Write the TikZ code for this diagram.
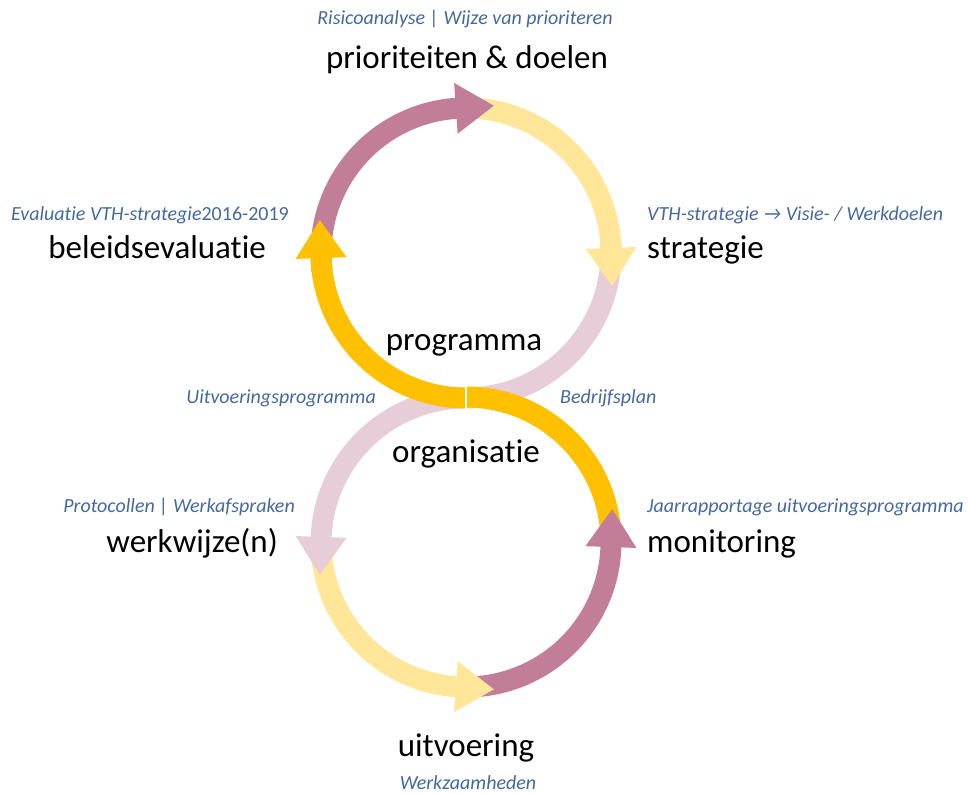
\documentclass[tikz,border=0pt]{standalone}
\usepackage{fontspec}
\setmainfont{Carlito}[Ligatures=NoCommon]
\usetikzlibrary{calc}
\definecolor{mauve}{RGB}{194,126,153}
\definecolor{sand}{RGB}{255,230,153}
\definecolor{blush}{RGB}{231,205,215}
\definecolor{gold}{RGB}{255,192,0}
\definecolor{slate}{RGB}{68,105,160}
\begin{document}
\begin{tikzpicture}[x=1pt,y=1pt,
    band/.style={line width=21pt},
    title/.style={inner sep=0pt, font=\fontsize{33}{36}\selectfont},
    note/.style={inner sep=0pt, text=slate, font=\fontsize{20}{24}\selectfont\itshape}]
    \useasboundingbox (0,0) rectangle (968,794);
    \coordinate (up) at (466,541);
    \coordinate (lo) at (466,252);
    % shafts
    \draw[band,blush] ($(up)+(5:145)$) arc (5:-90:145) arc (90:182:145);
    \draw[band,sand] ($(lo)+(180:145)$) arc (180:266.5:145);
    \draw[band,mauve] ($(lo)+(268:145)$) arc (268:358.5:145);
    \draw[band,sand] ($(up)+(100:145)$) arc (100:1.5:145);
    \draw[band,mauve] ($(up)+(187:145)$) arc (187:93.5:145);
    \draw[band,gold] ($(up)+(270:145)$) arc (270:181.5:145);
    \draw[band,gold] ($(lo)+(90:145)$) arc (90:3:145);
    \draw[white,line width=1.5pt] ($(up)+(270:133)$) -- ($(up)+(270:157)$);
    % arrow heads
    \foreach \c/\a/\t/\col in {up/182/-90/gold, up/94/-90/mauve, up/2/-90/sand,
                               lo/178/90/blush, lo/266/90/sand, lo/358/90/mauve}
    \fill[\col] ($(\c)+(\a:170.5)$) -- ($(\c)+(\a:119.5)$) -- ($(\c)+(\a:145)+(\a+\t:38)$) -- cycle;
    % labels
    \node[note,anchor=base] (risknote) at (465,769) {Risicoanalyse | Wijze van prioriteren};
    \node[title,anchor=base] (goals) at (467,725) {prioriteiten \& doelen};
    \node[note,anchor=base east] (evalnote) at (289,573) {Evaluatie VTH-strategie\textup{2016-2019}};
    \node[title,anchor=base east] (evaluation) at (266,535) {beleidsevaluatie};
    \node[note,anchor=base west] (stratnote) at (647,573) {VTH-strategie → Visie- / Werkdoelen};
    \node[title,anchor=base west] (strategy) at (647,535) {strategie};
    \node[title,anchor=base] (program) at (464,443) {programma};
    \node[note,anchor=base east] (prognote) at (376,390) {Uitvoeringsprogramma};
    \node[note,anchor=base west] (orgnote) at (560,390) {Bedrijfsplan};
    \node[title,anchor=base] (organisation) at (466,331) {organisatie};
    \node[note,anchor=base east] (worknote) at (295,281) {Protocollen | Werkafspraken};
    \node[title,anchor=base east] (working) at (278,241) {werkwijze(n)};
    \node[note,anchor=base west] (monnote) at (647,281) {Jaarrapportage uitvoeringsprogramma};
    \node[title,anchor=base west] (monitoring) at (647,241) {monitoring};
    \node[title,anchor=base] (execution) at (466,37) {uitvoering};
    \node[note,anchor=base] (execnote) at (468,4) {Werkzaamheden};
\end{tikzpicture}
\end{document}
